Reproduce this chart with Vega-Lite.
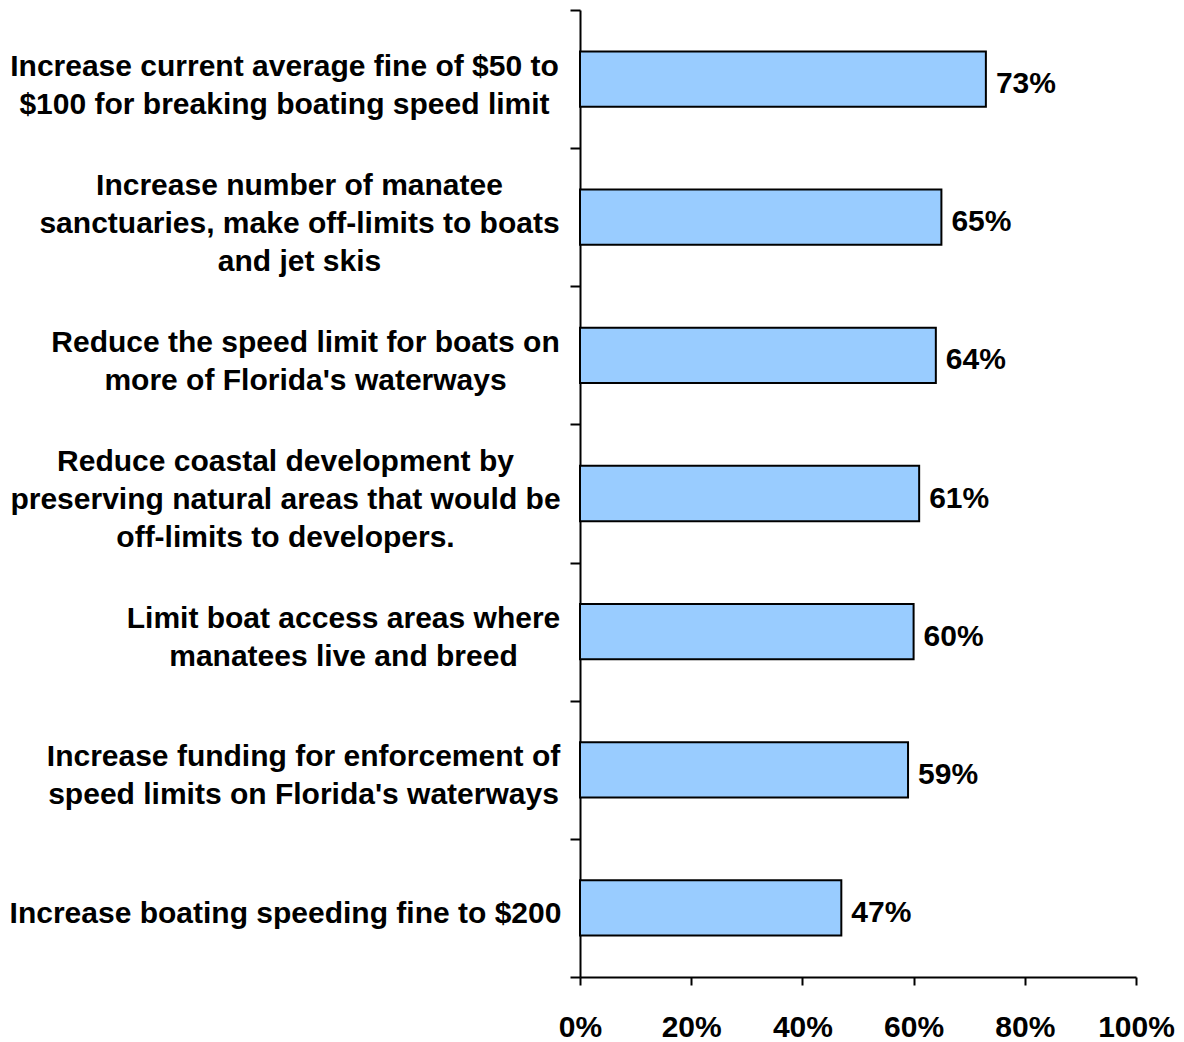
{
  "$schema": "https://vega.github.io/schema/vega-lite/v6.json",
  "autosize": "none",
  "width": 556,
  "height": 967,
  "padding": {"left": 580, "top": 10, "right": 48, "bottom": 65},
  "background": "white",
  "config": {
    "view": {"stroke": null},
    "font": "Liberation Sans"
  },
  "data": {
    "values": [
      {"measure": "Increase current average fine of $50 to|$100 for breaking boating speed limit", "share": 0.73},
      {"measure": "Increase number of manatee|sanctuaries, make off-limits to boats|and jet skis", "share": 0.65},
      {"measure": "Reduce the speed limit for boats on|more of Florida's waterways", "share": 0.64},
      {"measure": "Reduce coastal development by|preserving natural areas that would be|off-limits to developers.", "share": 0.61},
      {"measure": "Limit boat access areas where|manatees live and breed", "share": 0.60},
      {"measure": "Increase funding for enforcement of|speed limits on Florida's waterways", "share": 0.59},
      {"measure": "Increase boating speeding fine to $200", "share": 0.47}
    ]
  },
  "encoding": {
    "y": {
      "field": "measure",
      "type": "nominal",
      "sort": null,
      "scale": {"paddingInner": 0, "paddingOuter": 0},
      "axis": {
        "title": null,
        "labelExpr": "split(datum.label, '|')",
        "labelFont": "Liberation Sans",
        "labelFontSize": 30,
        "labelFontWeight": "bold",
        "labelColor": "black",
        "labelLineHeight": 38,
        "labelLimit": 0,
        "labelOverlap": false,
        "labelAlign": "center",
        "labelBaseline": "middle",
        "labelPadding": {"expr": "substring(datum.value, 0, 10) == 'Increase c' ? 286 : substring(datum.value, 0, 10) == 'Increase n' ? 271 : substring(datum.value, 0, 10) == 'Reduce the' ? 265 : substring(datum.value, 0, 10) == 'Reduce coa' ? 285 : substring(datum.value, 0, 10) == 'Limit boat' ? 227 : substring(datum.value, 0, 10) == 'Increase f' ? 267 : 285"},
        "labelOffset": {"expr": "substring(datum.value, 0, 10) == 'Increase n' || substring(datum.value, 0, 10) == 'Reduce coa' ? -32 : substring(datum.value, 0, 10) == 'Increase b' ? 6 : -13"},
        "tickSize": 10,
        "tickWidth": 2,
        "tickColor": "black",
        "tickBand": "extent",
        "domainColor": "black",
        "domainWidth": 2
      }
    },
    "x": {
      "field": "share",
      "type": "quantitative",
      "scale": {"domain": [0, 1], "nice": false},
      "axis": {
        "title": null,
        "values": [0, 0.2, 0.4, 0.6, 0.8, 1],
        "format": ".0%",
        "grid": false,
        "labelFlush": false,
        "labelFont": "Liberation Sans",
        "labelFontSize": 30,
        "labelFontWeight": "bold",
        "labelColor": "black",
        "labelPadding": 27,
        "tickSize": 8,
        "tickWidth": 2,
        "tickColor": "black",
        "domainColor": "black",
        "domainWidth": 2
      }
    }
  },
  "layer": [
    {
      "mark": {"type": "bar", "color": "#99CCFF", "stroke": "black", "strokeWidth": 2, "height": {"band": 0.4}}
    },
    {
      "mark": {"type": "text", "align": "left", "baseline": "middle", "dx": 10, "dy": 5, "fontSize": 30, "fontWeight": "bold", "font": "Liberation Sans", "color": "black"},
      "encoding": {
        "text": {"field": "share", "type": "quantitative", "format": ".0%"}
      }
    }
  ]
}
